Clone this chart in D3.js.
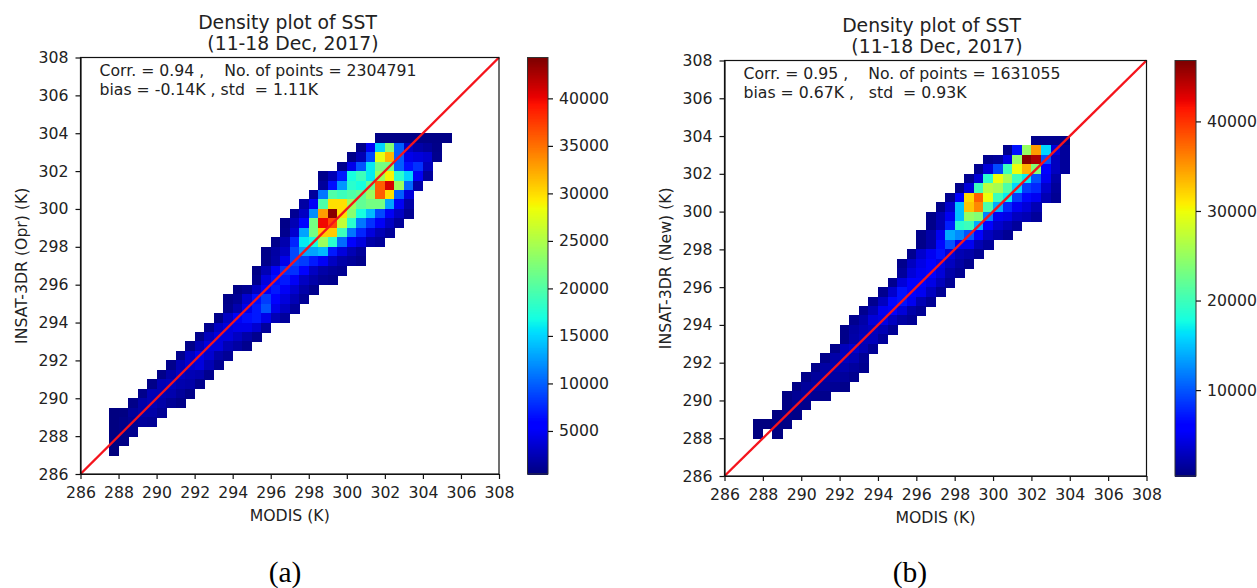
<!DOCTYPE html>
<html>
	<head>
		<meta charset="utf-8" />
		<title>Density plot of SST</title>
		<script src="https://d3js.org/d3.v7.min.js"></script>
		<style>
			html, body { margin: 0; background: #fff; }
			text { font-family: "DejaVu Sans", sans-serif; fill: #222; white-space: pre; }
		</style>
	</head>
	<body>
		<svg width="1257" height="588"></svg>
		<script>
			const axisTicks = d3.range(286, 309, 2);
			const binWidth = 0.5;

			// each row: lower edge of the y bin, lower edge of first x bin, counts
			const oprRows = [
				[303.5, 301.5, [700, 700, 700, 700, 700, 700, 700, 700]],
				[303, 300.5, [800, 5000, 15000, 23000, 10000, 3000, 2000, 1500, 800]],
				[302.5, 300, [800, 2500, 9000, 28000, 32000, 10000, 4500, 4000, 3500, 1000]],
				[302, 299.5, [1000, 4500, 9500, 16000, 22000, 22000, 10000, 6500, 8000, 2800]],
				[301.5, 298.5, [900, 2500, 7000, 17000, 19000, 16000, 24000, 29000, 18000, 15000, 5000, 1500]],
				[301, 298.5, [1500, 6500, 12500, 18000, 17000, 21000, 36000, 41000, 24000, 10500, 2000]],
				[300.5, 298, [1500, 11000, 20000, 19000, 20000, 21000, 24000, 36000, 30000, 10000, 4000]],
				[300, 297.5, [1800, 5000, 20000, 30000, 30000, 24000, 21000, 22000, 22000, 13000, 5000, 2000]],
				[299.5, 297, [1200, 3000, 12000, 33000, 44000, 30000, 23000, 17000, 14000, 9000, 5000, 3000, 1200]],
				[299, 296.5, [800, 2500, 6000, 22000, 40000, 37000, 26000, 18000, 11000, 8000, 5000, 3000, 1500]],
				[298.5, 296.5, [1000, 3500, 13000, 22000, 31000, 31000, 19000, 11000, 7500, 4000, 2500, 1500]],
				[298, 296, [900, 2200, 7500, 16000, 17000, 24000, 18000, 10500, 6000, 4000, 2000, 1500]],
				[297.5, 295.5, [800, 1800, 3000, 9000, 13000, 13000, 14000, 7000, 4000, 2500, 1500]],
				[297, 295.5, [900, 2000, 4500, 9000, 8500, 7000, 5000, 3000, 2000, 1500, 1000]],
				[296.5, 295, [700, 2500, 5000, 8000, 8000, 6000, 3000, 2000, 1500, 1200]],
				[296, 295, [1000, 4000, 6500, 7000, 5000, 3000, 2000, 1300, 1000]],
				[295.5, 294, [700, 1200, 3000, 5000, 7000, 5000, 3500, 2000, 1000]],
				[295, 293.5, [800, 1300, 3500, 6500, 8500, 6000, 4000, 2500, 1300]],
				[294.5, 293.5, [1000, 2200, 4500, 7000, 9500, 4500, 3000, 1500]],
				[294, 293, [800, 3000, 5000, 6500, 7000, 4500, 2500, 1500]],
				[293.5, 292.5, [1000, 3000, 4000, 4500, 4500, 3500, 1500]],
				[293, 292, [900, 2800, 4000, 4000, 3000, 2000, 1000]],
				[292.5, 291.5, [800, 2500, 4000, 4000, 2500, 1800, 1000]],
				[292, 291, [1000, 3000, 4500, 3500, 2000, 1300]],
				[291.5, 290.5, [900, 2500, 3500, 4000, 2500, 1200]],
				[291, 290, [800, 2000, 3000, 2500, 2200, 1000]],
				[290.5, 289.5, [800, 2500, 2800, 2200, 2000, 1000]],
				[290, 289, [900, 2500, 2500, 2200, 1500, 800]],
				[289.5, 288.5, [800, 2000, 2500, 2000, 1300, 800]],
				[289, 287.5, [500, 600, 1500, 2000, 2000, 1300]],
				[288.5, 287.5, [500, 800, 1200, 1500, 1300]],
				[288, 287.5, [500, 800, 1000]],
				[287.5, 287.5, [500, 700]],
				[287, 287.5, [400]]
			];

			const newRows = [
				[303.5, 302, [800, 1000, 1000, 700]],
				[303, 300.5, [900, 7000, 25000, 35000, 16000, 4000, 1500]],
				[302.5, 299.5, [1000, 1500, 4500, 25000, 46500, 45000, 10000, 3000, 1500]],
				[302, 299, [1000, 4000, 9500, 20000, 30000, 34000, 24000, 6000, 3000, 1500]],
				[301.5, 298.5, [1000, 4000, 19000, 30000, 26000, 20000, 17000, 10000, 5000, 2000]],
				[301, 298, [800, 4000, 20000, 27000, 26000, 21000, 16000, 9000, 8000, 3500, 1500]],
				[300.5, 297.5, [1000, 6000, 32000, 38000, 30000, 20000, 17000, 9000, 6500, 5000, 2500, 1200]],
				[300, 297, [800, 3500, 15000, 33000, 36000, 21000, 14000, 8000, 5000, 4000, 2500]],
				[299.5, 296.5, [800, 2500, 5000, 15000, 25000, 24000, 12000, 5000, 4500, 3000, 2500, 1500]],
				[299, 296.5, [800, 2500, 7500, 19000, 20000, 14000, 6000, 3500, 2500, 1500]],
				[298.5, 296, [800, 2000, 5000, 14000, 12500, 10000, 6000, 3000, 2000, 1200]],
				[298, 296, [800, 2000, 6500, 10000, 5000, 5000, 2500, 1500]],
				[297.5, 295.5, [1000, 3500, 5000, 7000, 4000, 2500, 2000, 1200]],
				[297, 295, [900, 3000, 4500, 6000, 4500, 3000, 1800, 1000]],
				[296.5, 295, [1500, 4000, 5000, 5500, 4000, 2000, 1200]],
				[296, 294.5, [1000, 4000, 5500, 5500, 4500, 2800, 1300]],
				[295.5, 294, [1000, 3500, 7000, 6000, 5000, 3000, 1300]],
				[295, 293.5, [1000, 3000, 6500, 7000, 5000, 2500, 1300]],
				[294.5, 293, [1000, 2500, 5000, 5500, 4000, 2000, 1300]],
				[294, 292.5, [1000, 2000, 4000, 4500, 3000, 1800, 1300]],
				[293.5, 292, [800, 1800, 2500, 3000, 2500, 1300]],
				[293, 292, [800, 2000, 2800, 2800, 1500]],
				[292.5, 291.5, [800, 2800, 3500, 2500, 1300]],
				[292, 291, [800, 2000, 3000, 2500, 1300]],
				[291.5, 290.5, [800, 1800, 2200, 2200, 1600, 1000]],
				[291, 290, [800, 1500, 1800, 1800, 1500, 1000]],
				[290.5, 289.5, [700, 1500, 1700, 1500, 1200, 800]],
				[290, 289, [600, 1200, 1500, 1200, 900]],
				[289.5, 289, [600, 1000, 900]],
				[289, 288.5, [500, 800, 700]],
				[288.5, 287.5, [400, 400, 600, 600]],
				[288, 287.5, [400, null, 500]]
			];

			const oprCbarTicks = [5000, 10000, 15000, 20000, 25000, 30000, 35000, 40000];
			const newCbarTicks = [10000, 20000, 30000, 40000];

			// matplotlib jet, piecewise per channel
			const jetR = d3.scaleLinear().domain([0, 0.35, 0.66, 0.89, 1]).range([0, 0, 255, 255, 128]);
			const jetG = d3.scaleLinear().domain([0, 0.125, 0.375, 0.64, 0.91, 1]).range([0, 0, 255, 255, 0, 0]);
			const jetB = d3.scaleLinear().domain([0, 0.11, 0.34, 0.65, 1]).range([128, 255, 255, 0, 0]);
			const jet = (t) => `rgb(${jetR(t)},${jetG(t)},${jetB(t)})`;

			const svg = d3.select("svg");

			function styleAxis(g) {
				g.selectAll(".domain").attr("stroke", "#111").attr("stroke-width", 1.2);
				g.selectAll(".tick line").attr("stroke", "#111").attr("stroke-width", 1.2);
				g.selectAll(".tick text").style("font-size", "15.7px").attr("fill", "#222");
				g.attr("font-family", null).attr("font-size", null);
			}

			function drawPanel(p) {
				const x = d3.scaleLinear().domain([286, 308]).range([p.left, p.right]);
				const y = d3.scaleLinear().domain([286, 308]).range([p.bottom, p.top]);
				const color = d3.scaleLinear().domain([p.vmin, p.vmax]).range([0, 1]);

				// Histogram cells
				const cells = p.rows.flatMap(([rowY, startX, counts]) =>
					counts.map((c, i) => ({ x0: startX + i * binWidth, y0: rowY, c }))
				).filter((d) => d.c !== null);

				svg.append("g")
					.attr("shape-rendering", "crispEdges")
					.selectAll("rect")
					.data(cells)
					.enter()
					.append("rect")
					.attr("x", (d) => x(d.x0))
					.attr("y", (d) => y(d.y0 + binWidth))
					.attr("width", (d) => x(d.x0 + binWidth) - x(d.x0) + 0.5)
					.attr("height", (d) => y(d.y0) - y(d.y0 + binWidth) + 0.5)
					.attr("fill", (d) => jet(color(d.c)));

				// 1:1 line
				svg.append("line")
					.attr("x1", x(286)).attr("y1", y(286))
					.attr("x2", x(308)).attr("y2", y(308))
					.attr("stroke", "#f5141c")
					.attr("stroke-width", 2.4);

				// Frame
				svg.append("rect")
					.attr("x", p.left).attr("y", p.top)
					.attr("width", p.right - p.left).attr("height", p.bottom - p.top)
					.attr("fill", "none").attr("stroke", "#111").attr("stroke-width", 1.2);

				svg.append("g")
					.attr("transform", `translate(0,${p.bottom})`)
					.call(d3.axisBottom(x).tickValues(axisTicks).tickSize(5).tickPadding(8).tickSizeOuter(0))
					.call(styleAxis);
				svg.append("g")
					.attr("transform", `translate(${p.left},0)`)
					.call(d3.axisLeft(y).tickValues(axisTicks).tickSize(5).tickPadding(7).tickSizeOuter(0))
					.call(styleAxis);

				// Colorbar
				const cbar = d3.scaleLinear().domain([p.vmin, p.vmax]).range([p.bottom, p.top]);
				const steps = d3.range(0, 256);
				const stepH = (p.bottom - p.top) / 256;
				svg.append("g")
					.selectAll("rect")
					.data(steps)
					.enter()
					.append("rect")
					.attr("x", p.cbarLeft)
					.attr("y", (d) => p.bottom - (d + 1) * stepH)
					.attr("width", p.cbarWidth)
					.attr("height", stepH + 1)
					.attr("fill", (d) => jet(d / 255));
				svg.append("rect")
					.attr("x", p.cbarLeft).attr("y", p.top)
					.attr("width", p.cbarWidth).attr("height", p.bottom - p.top)
					.attr("fill", "none").attr("stroke", "#333").attr("stroke-width", 1);
				svg.append("g")
					.attr("transform", `translate(${p.cbarLeft + p.cbarWidth},0)`)
					.call(d3.axisRight(cbar).tickValues(p.cbarTicks).tickFormat(d3.format("d")).tickSize(5).tickPadding(6).tickSizeOuter(0))
					.call(styleAxis)
					.call((g) => g.select(".domain").remove());

				// Texts
				const label = (txt, tx, ty, size, extra) => {
					const t = svg.append("text").attr("x", tx).attr("y", ty).style("font-size", size + "px").text(txt);
					if (extra) extra(t);
					return t;
				};
				const mid = (t) => t.attr("text-anchor", "middle");
				label("Density plot of SST", p.titleX, p.top - 29, 18.8, mid);
				label("(11-18 Dec, 2017)", p.titleX + 5.5, p.top - 8, 18.8, mid);
				label(p.stats[0], p.left + 19, p.top + 18, 15.7);
				label(p.stats[1], p.left + 19, p.top + 37.5, 15.7);
				label("MODIS (K)", (p.left + p.right) / 2, p.bottom + 46.5, 15.7, mid);
				label(p.ylabel, 0, 0, 15.7, (t) => {
					t.attr("text-anchor", "middle")
						.attr("transform", `translate(${p.left - 53.5},${(p.top + p.bottom) / 2}) rotate(-90)`);
				});
				label(p.tag, p.tagX, 582, 29.5, (t) => t.attr("text-anchor", "middle").style("font-family", '"Liberation Serif", serif').style("fill", "#000"));
			}

			drawPanel({
				rows: oprRows, vmin: 470, vmax: 44300, cbarTicks: oprCbarTicks,
				left: 80.5, right: 499, top: 57.5, bottom: 474,
				cbarLeft: 527.5, cbarWidth: 20.5, titleX: 287.5,
				stats: ["Corr. = 0.94 ,    No. of points = 2304791", "bias = -0.14K , std  = 1.11K"],
				ylabel: "INSAT-3DR (Opr) (K)", tag: "(a)", tagX: 285
			});
			drawPanel({
				rows: newRows, vmin: 410, vmax: 46800, cbarTicks: newCbarTicks,
				left: 724.5, right: 1146.5, top: 60.5, bottom: 476,
				cbarLeft: 1175, cbarWidth: 21, titleX: 931.5,
				stats: ["Corr. = 0.95 ,    No. of points = 1631055", "bias = 0.67K ,   std  = 0.93K"],
				ylabel: "INSAT-3DR (New) (K)", tag: "(b)", tagX: 910
			});
		</script>
	</body>
</html>
